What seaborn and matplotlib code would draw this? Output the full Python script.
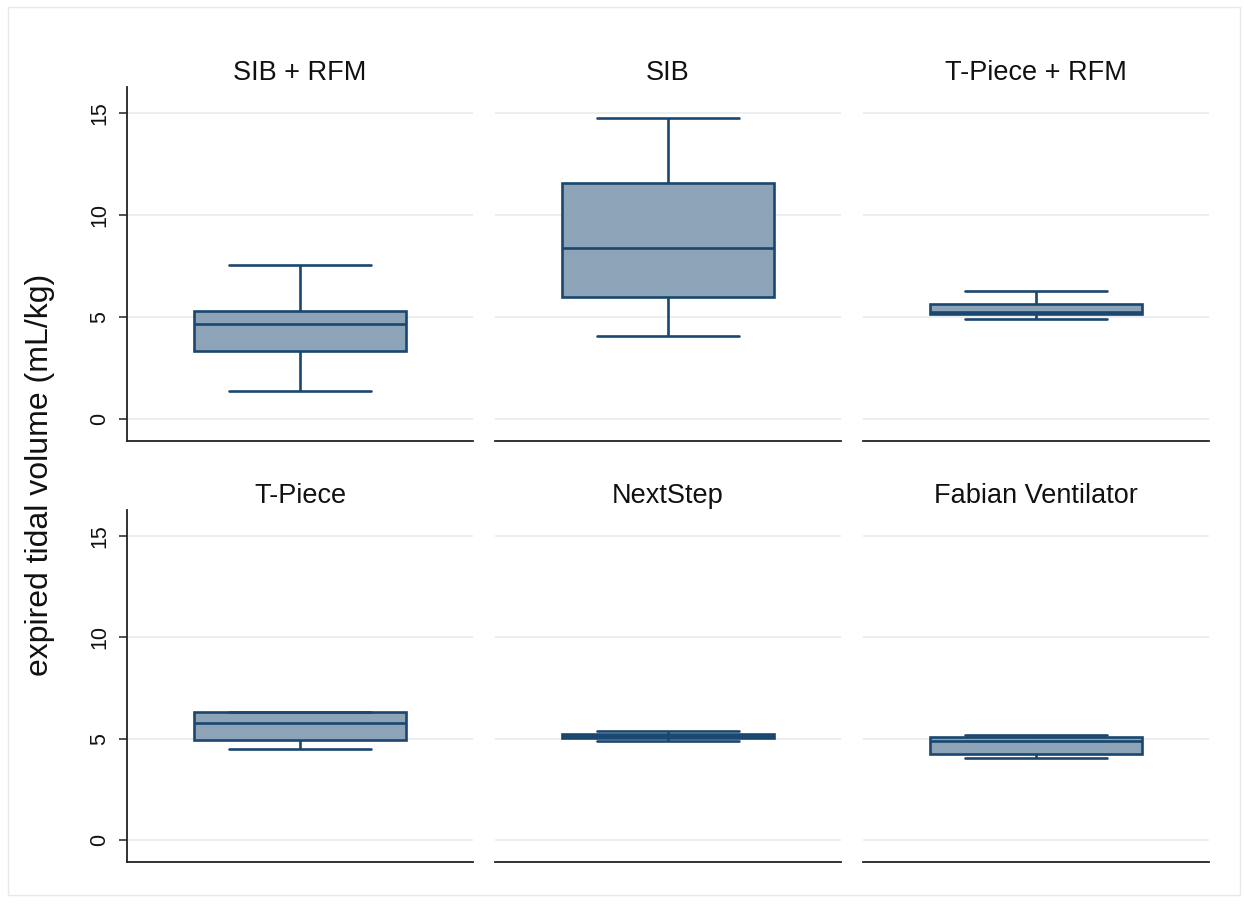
import matplotlib
matplotlib.use("Agg")
import matplotlib.pyplot as plt
from matplotlib.patches import Rectangle
import seaborn as sns
import pandas as pd
import numpy as np

# Five-number summaries (min, Q1, median, Q3, max)
groups = ["SIB + RFM", "SIB", "T-Piece + RFM", "T-Piece", "NextStep", "Fabian Ventilator"]
sib_rfm = [1.38, 3.34, 4.67, 5.31, 7.53]
sib = [4.08, 6.00, 8.41, 11.56, 14.76]
tpiece_rfm = [4.90, 5.13, 5.22, 5.64, 6.25]
tpiece = [4.50, 4.93, 5.75, 6.32, 6.32]
nextstep = [4.86, 5.02, 5.14, 5.24, 5.40]
fabian = [4.02, 4.22, 4.89, 5.10, 5.17]
y_ticks = [0, 5, 10, 15]

values = [sib_rfm, sib, tpiece_rfm, tpiece, nextstep, fabian]
df = pd.DataFrame({
    "group": np.repeat(groups, 5),
    "value": np.concatenate(values),
})

navy = "#1a476f"
fill = "#8da3b8"
grid_col = "#e9eef1"

sns.set_style("white")
plt.rcParams["font.family"] = ["Liberation Sans", "DejaVu Sans"]

fig = plt.figure(figsize=(12.44, 9.09), dpi=100)
W, H = 1244, 909
lefts = [127, 495, 863]
pw = 346
rows = [(87, 441), (510, 862)]

for i, g in enumerate(groups):
    r, c = divmod(i, 3)
    top, bot = rows[r]
    ax = fig.add_axes([lefts[c] / W, 1 - bot / H, pw / W, (bot - top) / H])
    sns.boxplot(data=df[df["group"] == g], y="value", ax=ax,
                whis=(0, 100), width=0.61, capwidths=0.41,
                color=fill, saturation=1, linecolor=navy, linewidth=1.9)
    ax.set_xlim(-0.5, 0.5)
    ax.set_ylim(-1.1, 16.3)
    ax.set_yticks(y_ticks)
    ax.set_xticks([])
    ax.set_xlabel("")
    ax.set_ylabel("")
    ax.set_axisbelow(True)
    ax.yaxis.grid(True, color=grid_col, linewidth=1.3)
    ax.set_title(g, fontsize=19.5, pad=5, color="#111111")
    for s in ["top", "right"]:
        ax.spines[s].set_visible(False)
    ax.spines["bottom"].set_color("#222222")
    ax.spines["bottom"].set_linewidth(1.3)
    if c == 0:
        ax.spines["left"].set_color("#222222")
        ax.spines["left"].set_linewidth(1.3)
        ax.tick_params(axis="y", length=6, width=1.1, color="#222222",
                       labelsize=15.5, labelcolor="#111111", pad=6, left=True)
        for lab in ax.get_yticklabels():
            lab.set_rotation(90)
            lab.set_va("center")
    else:
        ax.spines["left"].set_visible(False)
        ax.tick_params(axis="y", left=False, labelleft=False)

fig.text(40 / W, 1 - 475 / H, "expired tidal volume (mL/kg)", rotation=90,
         ha="center", va="center", fontsize=23, color="#111111")

fig.patches.append(Rectangle((8 / W, 1 - 895 / H), 1232 / W, 888 / H,
                             transform=fig.transFigure, fill=False,
                             edgecolor="#e6e9ec", linewidth=1))

fig.savefig("out.png", dpi=100, facecolor="white")
